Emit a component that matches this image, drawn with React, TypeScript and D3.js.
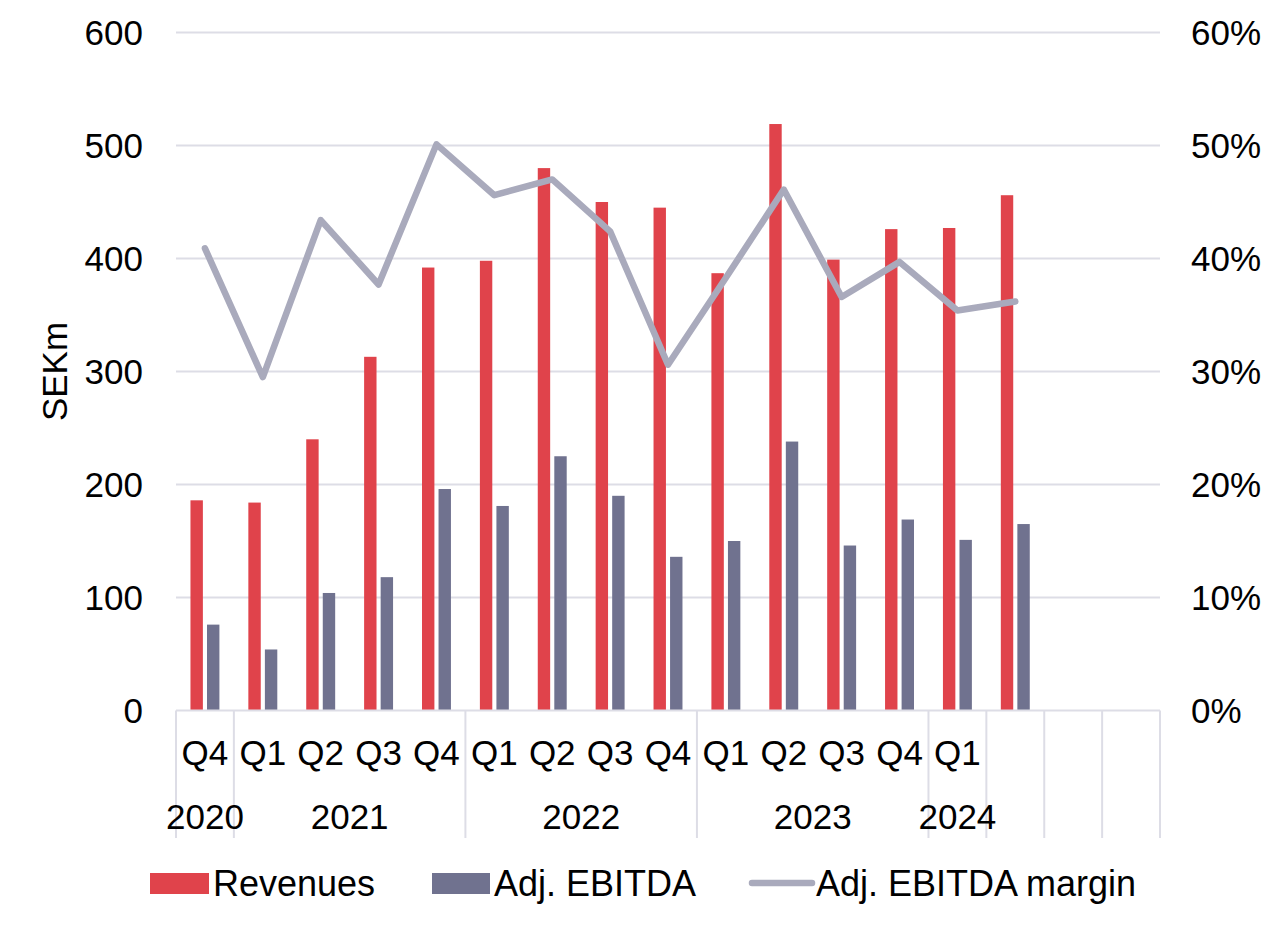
import React from "react";
import * as d3 from "d3";

const quarters = ["Q4", "Q1", "Q2", "Q3", "Q4", "Q1", "Q2", "Q3", "Q4", "Q1", "Q2", "Q3", "Q4", "Q1", "", "", ""];
const yearLabels = ["2020", "2021", "2022", "2023", "2024", "", "", ""];
const yearSpans = [1, 4, 4, 4, 1, 1, 1, 1];
const revenues = [186, 184, 240, 313, 392, 398, 480, 450, 445, 387, 519, 399, 426, 427, 456];
const ebitda = [76, 54, 104, 118, 196, 181, 225, 190, 136, 150, 238, 146, 169, 151, 165];
const margin = [40.9, 29.5, 43.4, 37.7, 50.1, 45.6, 47.0, 42.4, 30.6, 38.3, 46.1, 36.6, 39.7, 35.4, 36.2];
const leftTicks = [0, 100, 200, 300, 400, 500, 600];
const rightTicks = [0, 10, 20, 30, 40, 50, 60];
const seriesNames = ["Revenues", "Adj. EBITDA", "Adj. EBITDA margin"];

const W = 1281;
const H = 927;
const PL = 176;
const PR = 1160;
const PT = 32.5;
const PB = 710.5;

const RED = "#E0434B";
const SLATE = "#70728F";
const LINE = "#A9AABC";
const GRID = "#DDDDE6";
const FONT = "'Liberation Sans', Arial, sans-serif";

export default function App() {
  const cats = quarters.map((_, i) => String(i));
  const x = d3.scaleBand<string>().domain(cats).range([PL, PR]).paddingInner(0).paddingOuter(0);
  const w = x.bandwidth();
  const inner = d3
    .scaleBand<string>()
    .domain(["rev", "ebitda"])
    .range([w * 0.25, w * 0.75])
    .paddingInner(0.25)
    .paddingOuter(0);
  const yL = d3.scaleLinear().domain([0, 600]).range([PB, PT]);
  const yR = d3.scaleLinear().domain([0, 60]).range([PB, PT]);

  const lineGen = d3
    .line<number>()
    .x((_, i) => (x(String(i)) as number) + w / 2)
    .y((d) => yR(d));

  const bounds: number[] = [0];
  yearSpans.forEach((s) => bounds.push(bounds[bounds.length - 1] + s));
  const boundX = (k: number) => (k >= cats.length ? PR : (x(String(k)) as number));

  return (
    <svg
      width={W}
      height={H}
      style={{ position: "absolute", left: 0, top: 0, background: "#fff" }}
      fontFamily={FONT}
    >
      {leftTicks.slice(1).map((t) => (
        <line key={t} x1={PL} x2={PR} y1={yL(t)} y2={yL(t)} stroke={GRID} strokeWidth={2} />
      ))}
      {leftTicks.map((t) => (
        <text key={"l" + t} x={143} y={yL(t)} dy="0.36em" textAnchor="end" fontSize={35} fill="#000">
          {t}
        </text>
      ))}
      {rightTicks.map((t) => (
        <text key={"r" + t} x={1191} y={yR(t)} dy="0.36em" textAnchor="start" fontSize={35} fill="#000">
          {t + "%"}
        </text>
      ))}
      <text
        transform={`translate(54, ${(PT + PB) / 2}) rotate(-90)`}
        textAnchor="middle"
        dy="0.36em"
        fontSize={35}
        fill="#000"
      >
        SEKm
      </text>

      {revenues.map((v, i) => (
        <rect
          key={"rv" + i}
          x={(x(String(i)) as number) + (inner("rev") as number)}
          y={yL(v)}
          width={inner.bandwidth()}
          height={yL(0) - yL(v)}
          fill={RED}
        />
      ))}
      {ebitda.map((v, i) => (
        <rect
          key={"eb" + i}
          x={(x(String(i)) as number) + (inner("ebitda") as number)}
          y={yL(v)}
          width={inner.bandwidth()}
          height={yL(0) - yL(v)}
          fill={SLATE}
        />
      ))}

      <line x1={PL} x2={PR} y1={PB} y2={PB} stroke={GRID} strokeWidth={2} />
      {bounds.map((b, k) => (
        <line key={"vb" + k} x1={boundX(b)} x2={boundX(b)} y1={PB} y2={838} stroke={GRID} strokeWidth={2} />
      ))}
      {quarters.map((q, i) => (
        <text
          key={"q" + i}
          x={(x(String(i)) as number) + w / 2}
          y={752}
          dy="0.36em"
          textAnchor="middle"
          fontSize={35}
          fill="#000"
        >
          {q}
        </text>
      ))}
      {yearLabels.map((yl, k) => (
        <text
          key={"y" + k}
          x={(boundX(bounds[k]) + boundX(bounds[k + 1])) / 2}
          y={816}
          dy="0.36em"
          textAnchor="middle"
          fontSize={35}
          fill="#000"
        >
          {yl}
        </text>
      ))}

      <path
        d={lineGen(margin) || ""}
        fill="none"
        stroke={LINE}
        strokeWidth={6.5}
        strokeLinejoin="round"
        strokeLinecap="round"
      />

      <g>
        <rect x={150} y={873} width={59} height={21} fill={RED} />
        <text x={213} y={883} dy="0.36em" fontSize={36} fill="#000">
          {seriesNames[0]}
        </text>
        <rect x={432} y={873} width={58} height={21} fill={SLATE} />
        <text x={494} y={883} dy="0.36em" fontSize={36} fill="#000">
          {seriesNames[1]}
        </text>
        <line x1={752} x2={812} y1={883} y2={883} stroke={LINE} strokeWidth={6.5} strokeLinecap="round" />
        <text x={816} y={883} dy="0.36em" fontSize={36} fill="#000">
          {seriesNames[2]}
        </text>
      </g>
    </svg>
  );
}
